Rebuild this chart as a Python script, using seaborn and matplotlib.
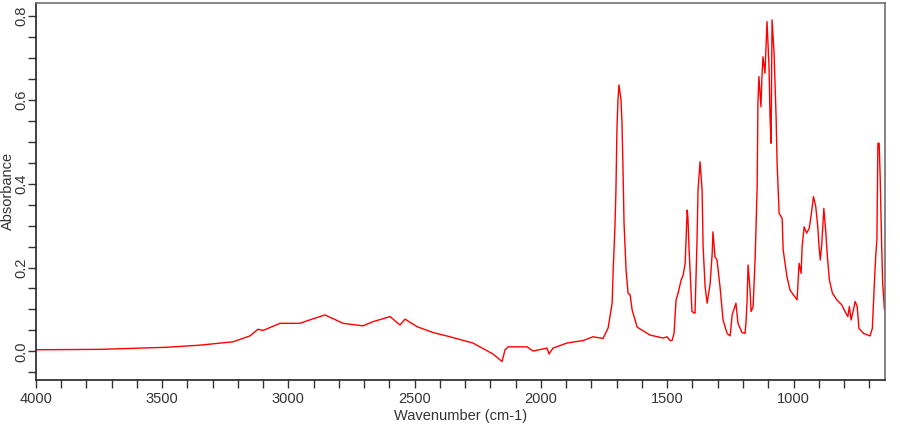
import seaborn as sns
from matplotlib import pyplot as plt
from matplotlib.ticker import MultipleLocator, FormatStrFormatter
import pandas as pd

# IR spectrum
wavenumber = [4000, 3745, 3480, 3350, 3219, 3152, 3120, 3100, 3033, 2954,
              2926, 2855, 2783, 2704, 2665, 2597, 2558, 2538, 2490, 2427,
              2360, 2269, 2190, 2154, 2142, 2130, 2055, 2031, 1976, 1968,
              1952, 1897, 1833, 1794, 1754, 1734, 1718, 1714, 1707, 1703,
              1699, 1695, 1691, 1683, 1679, 1675, 1671, 1663, 1655, 1647,
              1639, 1619, 1568, 1516, 1501, 1489, 1481, 1473, 1465, 1457,
              1445, 1437, 1429, 1421, 1418, 1414, 1406, 1402, 1390, 1382,
              1378, 1370, 1362, 1358, 1350, 1342, 1330, 1322, 1319, 1311,
              1303, 1291, 1279, 1263, 1251, 1243, 1228, 1220, 1204, 1192,
              1188, 1184, 1180, 1172, 1168, 1160, 1156, 1152, 1144, 1141,
              1137, 1129, 1125, 1121, 1113, 1109, 1105, 1097, 1093, 1089,
              1085, 1077, 1069, 1065, 1057, 1045, 1041, 1026, 1014, 986,
              978, 970, 966, 958, 948, 938, 931, 921, 912, 904,
              899, 894, 888, 880, 872, 866, 858, 846, 829, 809,
              796, 785, 779, 772, 763, 756, 748, 741, 723, 697,
              688, 680, 674, 670, 666, 661, 657, 651, 647, 640]
absorbance = [0.004, 0.005, 0.010, 0.015, 0.023, 0.037, 0.053, 0.050, 0.067, 0.067,
              0.073, 0.087, 0.067, 0.061, 0.071, 0.083, 0.063, 0.077, 0.059, 0.045,
              0.035, 0.020, -0.006, -0.024, 0.004, 0.011, 0.011, 0.001, 0.008, -0.006,
              0.008, 0.020, 0.026, 0.035, 0.031, 0.056, 0.116, 0.194, 0.297, 0.385,
              0.532, 0.599, 0.635, 0.599, 0.544, 0.432, 0.306, 0.194, 0.139, 0.135,
              0.099, 0.058, 0.039, 0.032, 0.035, 0.026, 0.026, 0.043, 0.123, 0.139,
              0.170, 0.182, 0.210, 0.337, 0.318, 0.250, 0.146, 0.095, 0.091, 0.266,
              0.385, 0.452, 0.385, 0.250, 0.154, 0.115, 0.162, 0.234, 0.285, 0.226,
              0.218, 0.154, 0.075, 0.043, 0.037, 0.087, 0.115, 0.067, 0.045, 0.043,
              0.071, 0.119, 0.206, 0.146, 0.095, 0.107, 0.162, 0.222, 0.393, 0.591,
              0.655, 0.583, 0.655, 0.702, 0.663, 0.726, 0.786, 0.678, 0.559, 0.496,
              0.790, 0.710, 0.559, 0.448, 0.329, 0.317, 0.242, 0.178, 0.146, 0.123,
              0.210, 0.186, 0.250, 0.297, 0.282, 0.293, 0.321, 0.369, 0.345, 0.297,
              0.250, 0.218, 0.258, 0.341, 0.282, 0.226, 0.170, 0.139, 0.123, 0.111,
              0.095, 0.083, 0.107, 0.075, 0.099, 0.119, 0.107, 0.055, 0.043, 0.037,
              0.055, 0.162, 0.234, 0.265, 0.496, 0.496, 0.416, 0.250, 0.162, 0.099]

df = pd.DataFrame({"wavenumber": wavenumber, "absorbance": absorbance})

sns.set_style("ticks")
plt.rcParams['font.family'] = ['Liberation Sans', 'DejaVu Sans']

fig = plt.figure(figsize=(9, 4.25), dpi=100)
ax = fig.add_subplot(111)
fig.subplots_adjust(left=0.0397, right=0.9833, top=0.9937, bottom=0.1059)

sns.lineplot(x="wavenumber", y="absorbance", data=df, color="#ff0000",
             linewidth=1.0, sort=False, estimator=None, ax=ax)

ax.set_xlim(4000, 638)
ax.set_ylim(-0.068, 0.831)

ax.xaxis.set_major_locator(MultipleLocator(500))
ax.xaxis.set_minor_locator(MultipleLocator(100))
ax.yaxis.set_major_locator(MultipleLocator(0.2))
ax.yaxis.set_minor_locator(MultipleLocator(0.05))
ax.yaxis.set_major_formatter(FormatStrFormatter('%.1f'))

ax.tick_params(which='both', direction='out', length=5.5, width=1, color='#333333',
               labelsize=10.5, labelcolor='#333333')
ax.tick_params(axis='x', pad=3)
ax.tick_params(axis='y', pad=0)
for lbl in ax.get_yticklabels():
    lbl.set_rotation(90)
    lbl.set_va('center')

ax.set_xlabel("Wavenumber (cm-1)", fontsize=10.5, color='#333333', labelpad=2)
ax.set_ylabel("Absorbance", fontsize=10.5, color='#333333')
ax.yaxis.set_label_coords(-0.0245, 0.5)

for side in ['left', 'bottom']:
    ax.spines[side].set_color('#222222')
    ax.spines[side].set_linewidth(1.2)
for side in ['top', 'right']:
    ax.spines[side].set_color('#707070')
    ax.spines[side].set_linewidth(1.2)

plt.savefig("out.png", dpi=100)
plt.close()
